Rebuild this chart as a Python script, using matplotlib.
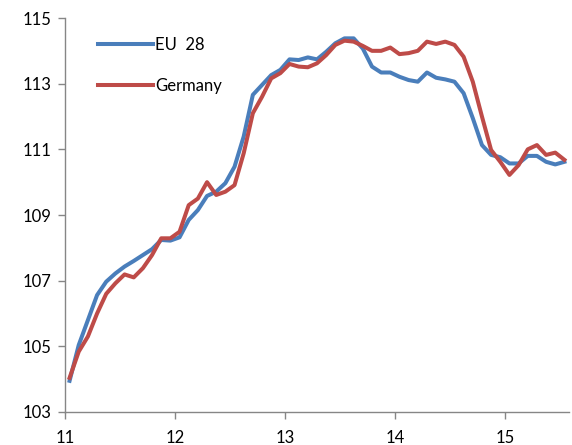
import matplotlib
matplotlib.use("Agg")
import matplotlib.pyplot as plt
import numpy as np

plt.rcParams['font.family'] = ['Lato', 'DejaVu Sans']

eu28 = [103.95, 105.04, 105.8, 106.56, 106.97, 107.22, 107.43, 107.6, 107.78, 107.96,
        108.24, 108.22, 108.32, 108.85, 109.15, 109.58, 109.71, 109.97, 110.47, 111.39,
        112.66, 112.96, 113.26, 113.42, 113.74, 113.72, 113.8, 113.74, 113.97, 114.23,
        114.38, 114.38, 114.07, 113.52, 113.34, 113.34, 113.21, 113.11, 113.06, 113.34,
        113.18, 113.13, 113.06, 112.71, 111.95, 111.13, 110.83, 110.76, 110.57, 110.57,
        110.8, 110.8, 110.62, 110.54, 110.62]
germany = [104.04, 104.84, 105.3, 106.0, 106.6, 106.92, 107.19, 107.1, 107.38, 107.78,
           108.29, 108.29, 108.49, 109.3, 109.5, 110.0, 109.61, 109.71, 109.91, 110.88,
           112.1, 112.6, 113.16, 113.32, 113.6, 113.52, 113.5, 113.62, 113.87, 114.18,
           114.31, 114.28, 114.15, 114.0, 114.0, 114.1, 113.9, 113.93, 114.0, 114.28,
           114.21, 114.28, 114.18, 113.82, 113.06, 112.0, 110.98, 110.62, 110.22, 110.52,
           111.0, 111.13, 110.83, 110.9, 110.68]
start_year = 11
year_ticks = [11, 12, 13, 14, 15]
y_ticks = [103, 105, 107, 109, 111, 113, 115]

n = len(eu28)
x = start_year + (np.arange(n) + 0.5) / 12.0

fig = plt.figure(figsize=(5.72, 4.45), dpi=100)
ax = fig.add_axes([65/572, 1-412/445, (569-65)/572, (412-18)/445])

ax.plot(x, eu28, color='#4A7EBB', lw=2.9, label='EU  28', solid_joinstyle='round')
ax.plot(x, germany, color='#BE4B48', lw=2.9, label='Germany', solid_joinstyle='round')

ax.set_xlim(start_year, start_year + n / 12.0)
ax.set_ylim(103, 115)
ax.set_xticks(year_ticks)
ax.set_xticklabels([str(t) for t in year_ticks])
ax.set_yticks(y_ticks)
ax.set_yticklabels([str(t) for t in y_ticks])

for s in ['top', 'right']:
    ax.spines[s].set_visible(False)
for s in ['left', 'bottom']:
    ax.spines[s].set_color('#868686')
    ax.spines[s].set_linewidth(1.0)
ax.tick_params(axis='both', direction='out', length=5, color='#868686', labelsize=12,
               labelcolor='black', width=1.0)
ax.tick_params(axis='x', pad=8)
ax.tick_params(axis='y', pad=5)

leg = ax.legend(loc='upper left', bbox_to_anchor=(0.035, 0.99), frameon=False,
                fontsize=12, handlelength=3.3, handletextpad=0.15, labelspacing=1.5)

fig.savefig('out.png', dpi=100)
